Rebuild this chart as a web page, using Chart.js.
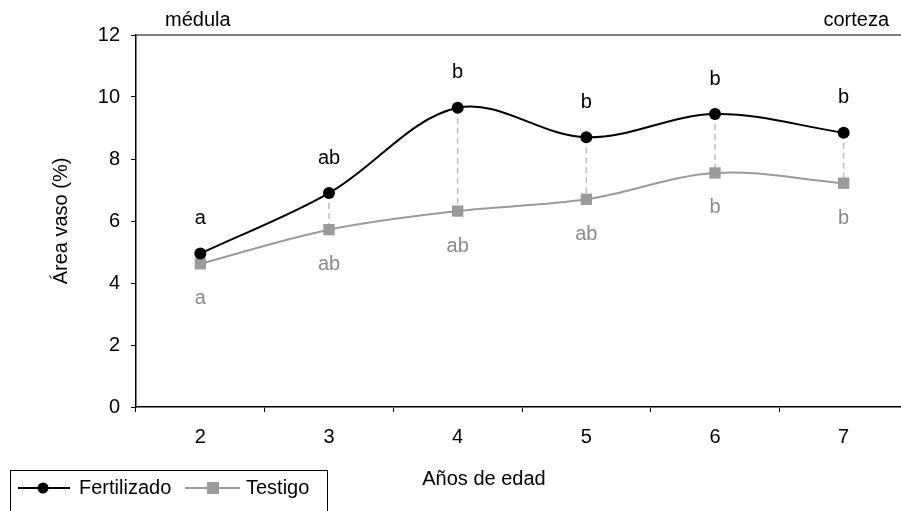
<!DOCTYPE html>
<html>
<head>
<meta charset="utf-8">
<script src="https://cdn.jsdelivr.net/npm/chart.js@4.4.1/dist/chart.umd.min.js"></script>
<style>
html, body { margin: 0; padding: 0; overflow: hidden; background: #fff; }
#wrap { width: 916px; height: 511px; }
</style>
</head>
<body>
<div id="wrap"><canvas id="grafico" width="916" height="511"></canvas></div>
<script>
// datos
var edades = ['2', '3', '4', '5', '6', '7'];
var fertilizado = [4.95, 6.9, 9.65, 8.7, 9.45, 8.85];
var testigo = [4.62, 5.72, 6.32, 6.7, 7.55, 7.22];
var letrasFert = ['a', 'ab', 'b', 'b', 'b', 'b'];
var letrasTest = ['a', 'ab', 'ab', 'ab', 'b', 'b'];
var etiquetaIzq = 'médula';
var etiquetaDer = 'corteza';
var tituloX = 'Años de edad';
var tituloY = 'Área vaso (%)';

var fuente = '"Liberation Sans", Arial, sans-serif';
var tam = 20;
var gris = '#9a9a9a';
var grisTexto = '#8a8a8a';

// anotaciones: lineas punteadas, letras, borde superior, leyenda
var anotaciones = {
    id: 'anotaciones',
    beforeDatasetsDraw: function (chart) {
        var ctx = chart.ctx;
        var a = chart.chartArea;
        var mf = chart.getDatasetMeta(0).data;
        var mt = chart.getDatasetMeta(1).data;
        ctx.save();
        // borde superior
        ctx.strokeStyle = '#555';
        ctx.lineWidth = 1.5;
        ctx.beginPath();
        ctx.moveTo(a.left, a.top);
        ctx.lineTo(a.right, a.top);
        ctx.stroke();
        // lineas verticales punteadas
        ctx.strokeStyle = '#bbbbbb';
        ctx.lineWidth = 1.5;
        ctx.setLineDash([6, 4]);
        for (var i = 0; i < mf.length; i++) {
            ctx.beginPath();
            ctx.moveTo(mf[i].x, mf[i].y);
            ctx.lineTo(mt[i].x, mt[i].y);
            ctx.stroke();
        }
        ctx.restore();
    },
    afterDatasetsDraw: function (chart) {
        var ctx = chart.ctx;
        var mf = chart.getDatasetMeta(0).data;
        var mt = chart.getDatasetMeta(1).data;
        ctx.save();
        ctx.font = tam + 'px ' + fuente;
        ctx.textAlign = 'center';
        ctx.textBaseline = 'middle';
        for (var i = 0; i < mf.length; i++) {
            ctx.fillStyle = '#000';
            ctx.fillText(letrasFert[i], mf[i].x, mf[i].y - 35);
            ctx.fillStyle = grisTexto;
            ctx.fillText(letrasTest[i], mt[i].x, mt[i].y + 35);
        }
        // textos superiores y titulo x
        ctx.fillStyle = '#000';
        ctx.textBaseline = 'alphabetic';
        ctx.textAlign = 'left';
        ctx.fillText(etiquetaIzq, 165, 26);
        ctx.textAlign = 'right';
        ctx.fillText(etiquetaDer, 889, 26);
        ctx.textAlign = 'center';
        ctx.fillText(tituloX, 484, 485);

        // leyenda
        ctx.strokeStyle = '#000';
        ctx.lineWidth = 1;
        ctx.strokeRect(10.5, 470.5, 317, 60);
        ctx.lineWidth = 2;
        ctx.beginPath();
        ctx.moveTo(18, 488);
        ctx.lineTo(70, 488);
        ctx.stroke();
        ctx.fillStyle = '#000';
        ctx.beginPath();
        ctx.arc(43, 488, 5.5, 0, Math.PI * 2);
        ctx.fill();
        ctx.strokeStyle = gris;
        ctx.beginPath();
        ctx.moveTo(185, 488);
        ctx.lineTo(240, 488);
        ctx.stroke();
        ctx.fillStyle = gris;
        ctx.fillRect(207, 482, 12, 12);
        ctx.fillStyle = '#000';
        ctx.textAlign = 'left';
        ctx.textBaseline = 'middle';
        ctx.fillText(chart.data.datasets[0].label, 79, 488);
        ctx.fillText(chart.data.datasets[1].label, 246, 488);
        ctx.restore();
    }
};

new Chart(document.getElementById('grafico'), {
    type: 'line',
    data: {
        labels: edades,
        datasets: [
            {
                label: 'Fertilizado',
                data: fertilizado,
                borderColor: '#000',
                backgroundColor: '#000',
                borderWidth: 2,
                pointStyle: 'circle',
                pointRadius: 6,
                pointBorderWidth: 0,
                tension: 0.35
            },
            {
                label: 'Testigo',
                data: testigo,
                borderColor: gris,
                backgroundColor: gris,
                borderWidth: 2,
                pointStyle: 'rect',
                pointRadius: 8,
                pointBorderWidth: 0,
                tension: 0.35
            }
        ]
    },
    options: {
        responsive: false,
        animation: false,
        layout: { padding: { left: 0, top: 35, right: 4, bottom: 0 } },
        plugins: {
            legend: { display: false },
            tooltip: { enabled: false }
        },
        scales: {
            x: {
                offset: true,
                afterFit: function (s) { s.height = 104; },
                grid: { offset: true, drawOnChartArea: false, drawTicks: true, tickLength: 5, color: '#000' },
                border: { display: true, color: '#000', width: 1.5 },
                ticks: { color: '#000', padding: 13, font: { family: fuente, size: tam } }
            },
            y: {
                min: 0,
                max: 12,
                afterFit: function (s) { s.width = 136; },
                grid: { drawOnChartArea: false, drawTicks: true, tickLength: 5, color: '#000' },
                border: { display: true, color: '#000', width: 1.5 },
                ticks: { stepSize: 2, color: '#000', padding: 11, font: { family: fuente, size: tam } },
                title: { display: true, text: tituloY, color: '#000', padding: { top: 49 }, font: { family: fuente, size: tam } }
            }
        }
    },
    plugins: [anotaciones]
});
</script>
</body>
</html>
